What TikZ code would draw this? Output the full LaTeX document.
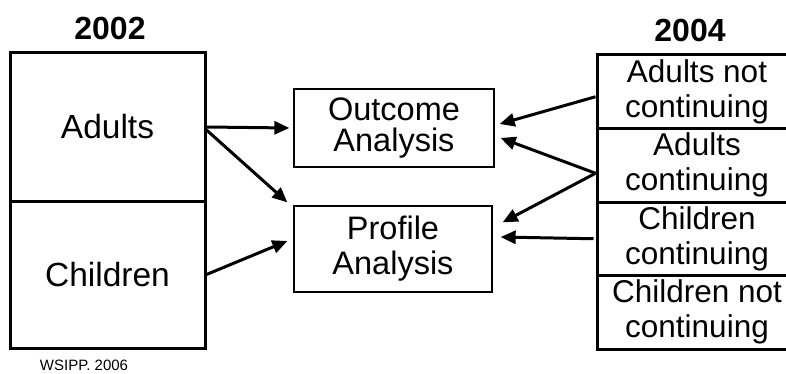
\documentclass[tikz,border=0pt]{standalone}
\usepackage{fontspec}
\setmainfont{Liberation Sans}
\usetikzlibrary{arrows.meta, positioning, calc}

\tikzset{
  group/.style={draw, line width=3pt, inner sep=0pt, align=center,
                font=\fontsize{31.5}{35}\selectfont},
  analysis/.style={draw, line width=1.3pt, inner sep=0pt, align=center,
                   font=\fontsize{32.5}{31}\selectfont},
  flow/.style={line width=3pt, -{Triangle[length=15pt, width=13pt]}}
}

\begin{document}
\begin{tikzpicture}[x=1pt, y=-1pt]
        \useasboundingbox (0,0) rectangle (786,374);

        % 2002 column
        \node[font=\fontsize{32}{35}\selectfont\bfseries] (y2002) at (110,28) {2002};
        \node[group, minimum width=195pt, minimum height=148pt, font=\fontsize{33.5}{35}\selectfont] (adults) at (107.5,127) {Adults};
        \node[group, minimum width=195pt, minimum height=147pt, font=\fontsize{33.5}{35}\selectfont] (children) at (107.5,274.5) {Children};

        % analyses
        \node[analysis, minimum width=200pt, minimum height=78pt] (outcome) at (394,128) {Outcome\\Analysis};
        \node[analysis, minimum width=198pt, minimum height=86pt, font=\fontsize{32.5}{35}\selectfont] (profile) at (393,249) {Profile\\Analysis};

        % 2004 column
        \node[font=\fontsize{32}{35}\selectfont\bfseries] (y2004) at (690,30) {2004};
        \node[group, minimum width=200pt, minimum height=73.5pt] (anot) at (697,91.75) {Adults not\\continuing};
        \node[group, minimum width=200pt, minimum height=73.5pt] (acont) at (697,165.25) {Adults\\continuing};
        \node[group, minimum width=200pt, minimum height=73.5pt] (ccont) at (697,238.75) {Children\\continuing};
        \node[group, minimum width=200pt, minimum height=73.5pt] (cnot) at (697,312.25) {Children not\\continuing};

        \node[font=\fontsize{15}{16}\selectfont] (source) at (84,365) {WSIPP. 2006};

        % connectors
        \draw[flow] (adults.east) -- ([xshift=-4pt]outcome.west);
        \draw[flow] ([yshift=-3pt]adults.east) -- ([xshift=-6pt, yshift=3pt]profile.north west);
        \draw[flow] (children.east) -- ([xshift=-6pt, yshift=8pt]profile.west);

        \coordinate (fork) at ([yshift=-8pt]acont.west);
        \draw[flow] ([yshift=-5pt]anot.west) -- ([xshift=5pt, yshift=4pt]outcome.east);
        \draw[flow] (fork) -- ([xshift=6pt, yshift=-10pt]outcome.east);
        \draw[flow] (fork) -- ([xshift=10pt, yshift=-17pt]profile.north east);
        \draw[flow] ([xshift=-2pt]ccont.west) -- ([xshift=8pt, yshift=12pt]profile.east);
      \end{tikzpicture}
\end{document}
